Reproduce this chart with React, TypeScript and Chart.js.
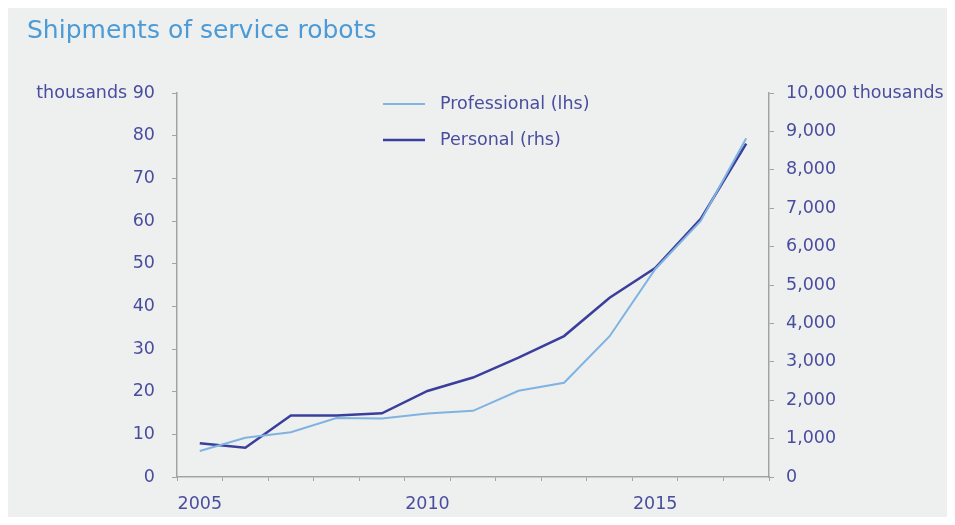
import React, { useEffect, useRef } from "react";
import { Chart, registerables } from "chart.js";

Chart.register(...registerables);

const years = ["2005", "2006", "2007", "2008", "2009", "2010", "2011", "2012", "2013", "2014", "2015", "2016", "2017"];
const labelledYears = ["2005", "2010", "2015"];
const professional = [6.1, 9.2, 10.5, 13.8, 13.7, 14.9, 15.5, 20.2, 22.1, 33.0, 48.7, 60.0, 79.4];
const personal = [880, 760, 1600, 1600, 1660, 2240, 2590, 3110, 3670, 4670, 5440, 6720, 8680];
const title = "Shipments of service robots";
const seriesNames = ["Professional (lhs)", "Personal (rhs)"];

const FONT = "'DejaVu Sans', sans-serif";
const TEXT = "#4a4d9e";
const AXIS = "#a3a3a3";
const LIGHT = "#7fb3e1";
const DARK = "#3b3f9b";
const BG = "#eef0f0";

export default function App() {
  const ref = useRef<HTMLCanvasElement | null>(null);
  useEffect(() => {
    if (!ref.current) return;
    const decor = {
      id: "decor",
      beforeDraw(chart: any) {
        const c = chart.ctx;
        c.save();
        c.fillStyle = BG;
        c.fillRect(0, 0, chart.width, chart.height);
        c.restore();
      },
      afterDraw(chart: any) {
        const c = chart.ctx;
        c.save();
        c.fillStyle = "#4c9bd6";
        c.font = `25px ${FONT}`;
        c.textBaseline = "alphabetic";
        c.textAlign = "left";
        c.fillText(title, 19, 30);
        const items = [
          { name: seriesNames[0], color: LIGHT, w: 2, y: 96 },
          { name: seriesNames[1], color: DARK, w: 2.5, y: 132 },
        ];
        c.font = `17.5px ${FONT}`;
        c.textBaseline = "middle";
        for (const it of items) {
          c.strokeStyle = it.color;
          c.lineWidth = it.w;
          c.beginPath();
          c.moveTo(375, it.y);
          c.lineTo(417, it.y);
          c.stroke();
          c.fillStyle = TEXT;
          c.fillText(it.name, 432, it.y);
        }
        c.restore();
      },
    };
    const chart = new Chart(ref.current, {
      type: "line",
      data: {
        labels: years,
        datasets: [
          {
            label: seriesNames[0],
            data: professional,
            yAxisID: "y",
            borderColor: LIGHT,
            borderWidth: 2,
            pointRadius: 0,
            tension: 0,
          },
          {
            label: seriesNames[1],
            data: personal,
            yAxisID: "y1",
            borderColor: DARK,
            borderWidth: 2.5,
            pointRadius: 0,
            tension: 0,
          },
        ],
      },
      options: {
        animation: false,
        responsive: false,
        maintainAspectRatio: false,
        layout: { padding: { top: 85, left: 0, right: 0, bottom: 0 } },
        plugins: { legend: { display: false }, title: { display: false }, tooltip: { enabled: false } },
        scales: {
          x: {
            type: "category",
            offset: true,
            afterFit: (s: any) => { s.height = 40; },
            grid: { offset: true, drawOnChartArea: false, drawTicks: true, tickLength: 4, color: AXIS },
            border: { display: true, color: AXIS, width: 1.5 },
            ticks: {
              autoSkip: false,
              maxRotation: 0,
              padding: 13,
              color: TEXT,
              font: { family: FONT, size: 17.5 },
              callback: (_v: any, i: number) => (labelledYears.includes(years[i]) ? years[i] : ""),
            },
          },
          y: {
            position: "left",
            min: 0,
            max: 90,
            afterFit: (s: any) => { s.width = 169; },
            grid: { drawOnChartArea: false, drawTicks: true, tickLength: 5, color: AXIS },
            border: { display: true, color: AXIS, width: 1.5 },
            ticks: {
              stepSize: 10,
              padding: 17,
              color: TEXT,
              font: { family: FONT, size: 17.5 },
              callback: (v: any) => (v === 90 ? "thousands 90" : String(v)),
            },
          },
          y1: {
            position: "right",
            min: 0,
            max: 10000,
            afterFit: (s: any) => { s.width = 178; },
            grid: { drawOnChartArea: false, drawTicks: true, tickLength: 5, color: AXIS },
            border: { display: true, color: AXIS, width: 1.5 },
            ticks: {
              stepSize: 1000,
              padding: 12,
              color: TEXT,
              font: { family: FONT, size: 17.5 },
              callback: (v: any) => (v === 10000 ? "10,000 thousands" : Number(v).toLocaleString("en-US")),
            },
          },
        },
      },
      plugins: [decor],
    });
    return () => chart.destroy();
  }, []);
  return (
    <div style={{ width: 939, height: 509 }}>
      <canvas ref={ref} width={939} height={509} style={{ display: "block", width: 939, height: 509 }} />
    </div>
  );
}
